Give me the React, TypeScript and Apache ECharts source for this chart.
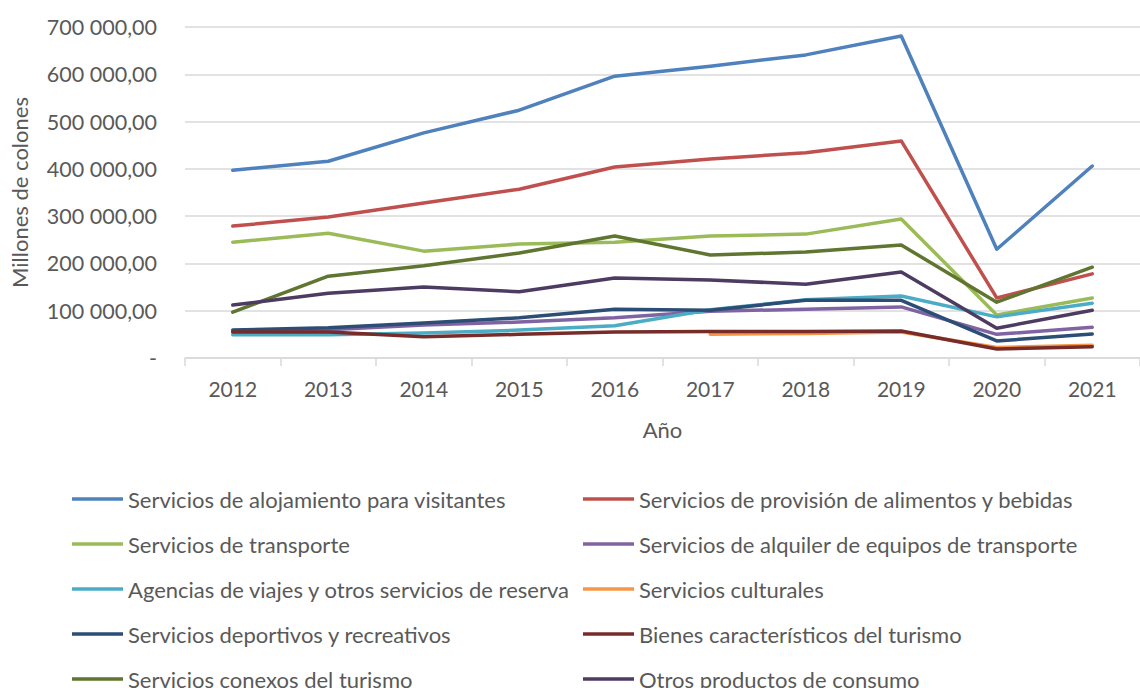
import React, { useEffect, useRef } from "react";
import * as echarts from "echarts";

const years = ["2012", "2013", "2014", "2015", "2016", "2017", "2018", "2019", "2020", "2021"];

const alojamiento = [397000, 416000, 476000, 524000, 596000, 617000, 641000, 681000, 230000, 406000];
const provision = [279000, 298000, 328000, 357000, 404000, 421000, 434000, 459000, 127000, 178000];
const transporte = [245000, 264000, 226000, 241000, 245000, 258000, 262000, 294000, 91000, 127000];
const alquiler = [55000, 60000, 70000, 76000, 85000, 99000, 103000, 108000, 50000, 65000];
const agencias = [49000, 49000, 53000, 59000, 68000, 102000, 123000, 131000, 87000, 116000];
const culturales = [null, null, null, null, null, 50000, 52000, 55000, 22000, 27000];
const deportivos = [59000, 64000, 74000, 85000, 103000, 101000, 122000, 122000, 36000, 51000];
const bienes = [55000, 55000, 45000, 50000, 55000, 56000, 56000, 57000, 19000, 24000];
const conexos = [97000, 173000, 195000, 222000, 258000, 218000, 224000, 239000, 118000, 192000];
const otros = [112000, 137000, 150000, 140000, 169000, 165000, 156000, 182000, 63000, 101000];

const seriesNames = [
  "Servicios de alojamiento para visitantes",
  "Servicios de provisión de alimentos y bebidas",
  "Servicios de transporte",
  "Servicios de alquiler de equipos de transporte",
  "Agencias de viajes y otros servicios de reserva",
  "Servicios culturales",
  "Servicios deportivos y recreativos",
  "Bienes característicos del turismo",
  "Servicios conexos del turismo",
  "Otros productos de consumo",
];
const seriesData = [alojamiento, provision, transporte, alquiler, agencias, culturales, deportivos, bienes, conexos, otros];
const colors = ["#4F81BD", "#C0504D", "#9BBB59", "#8064A2", "#4BACC6", "#F79646", "#2C4D75", "#772C2A", "#5F7530", "#4D3B62"];

const leftLegend = [seriesNames[0], seriesNames[2], seriesNames[4], seriesNames[6], seriesNames[8]];
const rightLegend = [seriesNames[1], seriesNames[3], seriesNames[5], seriesNames[7], seriesNames[9]];

const FONT = "Lato, 'Open Sans', sans-serif";
const TEXT = "#595959";

function fmt(v: number): string {
  if (v === 0) return "-";
  return String(v).replace(/\B(?=(\d{3})+(?!\d))/g, " ") + ",00";
}

export default function App() {
  const ref = useRef<HTMLDivElement>(null);
  useEffect(() => {
    if (!ref.current) return;
    const chart = echarts.init(ref.current, undefined, { renderer: "svg" });
    const legendCommon = {
      orient: "vertical",
      top: 487,
      height: 400,
      padding: 0,
      icon: "rect",
      itemWidth: 51,
      itemHeight: 3.5,
      itemGap: 21,
      textStyle: { color: TEXT, fontFamily: FONT, fontSize: 22, lineHeight: 24 },
    };
    chart.setOption({
      animation: false,
      backgroundColor: "#ffffff",
      grid: { left: 183, right: -10, top: 27, bottom: 330, containLabel: false },
      xAxis: {
        type: "category",
        data: years,
        boundaryGap: true,
        name: "Año",
        nameLocation: "middle",
        nameGap: 60,
        nameTextStyle: { color: TEXT, fontFamily: FONT, fontSize: 22 },
        axisLine: { lineStyle: { color: "#d9d9d9", width: 1.5 } },
        axisTick: { show: true, length: 8, lineStyle: { color: "#d9d9d9", width: 1.5 } },
        axisLabel: { color: TEXT, fontFamily: FONT, fontSize: 21, margin: 20 },
      },
      yAxis: {
        type: "value",
        min: 0,
        max: 700000,
        interval: 100000,
        name: "Millones de colones",
        nameLocation: "middle",
        nameGap: 155,
        nameTextStyle: { color: TEXT, fontFamily: FONT, fontSize: 22 },
        axisLine: { show: false },
        axisTick: { show: false },
        splitLine: { lineStyle: { color: "#d9d9d9", width: 1.5 } },
        axisLabel: { color: TEXT, fontFamily: FONT, fontSize: 21.5, margin: 28, formatter: fmt },
      },
      legend: [
        { ...legendCommon, left: 72, data: leftLegend },
        { ...legendCommon, left: 583, data: rightLegend },
      ],
      series: seriesNames.map((name, i) => ({
        name,
        type: "line",
        data: seriesData[i],
        symbol: "none",
        connectNulls: false,
        color: colors[i],
        lineStyle: { width: 3.5, color: colors[i], cap: "round", join: "round" },
      })),
    });
    return () => chart.dispose();
  }, []);
  return <div ref={ref} style={{ position: "fixed", left: 0, top: 0, width: 1140, height: 688 }} />;
}
